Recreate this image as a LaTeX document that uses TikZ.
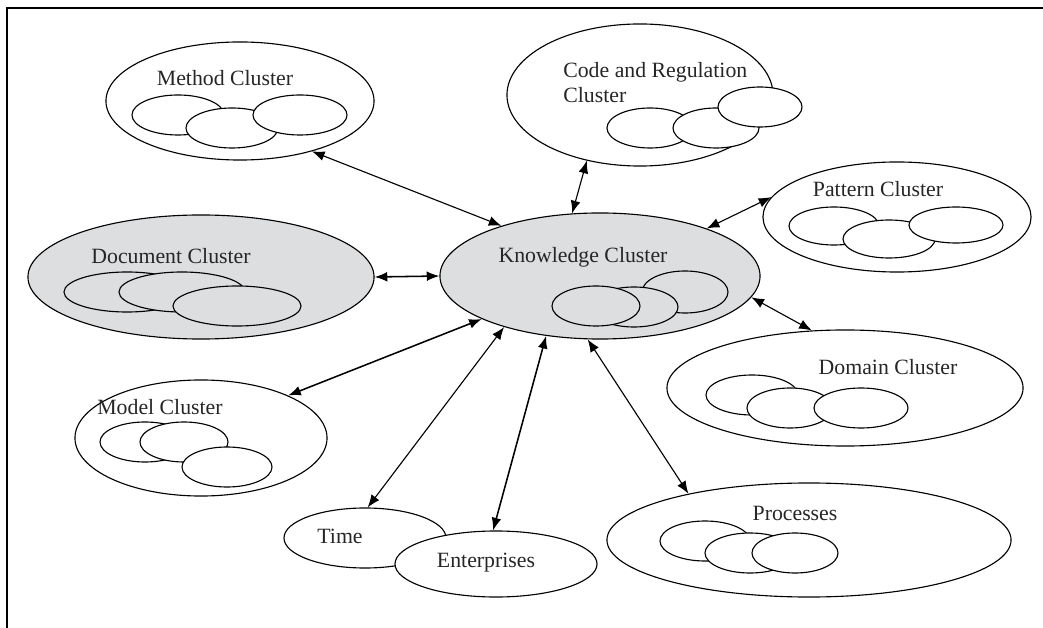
\documentclass[tikz,border=0pt]{standalone}
\usepackage{fontspec}
\setmainfont{Liberation Serif}
\usepackage{tikz}
\usetikzlibrary{shapes.geometric, arrows.meta}
\definecolor{clustergray}{RGB}{221,222,224}
\tikzset{
	oval/.style 2 args={ellipse, draw, line width=0.8pt, inner sep=0pt, minimum width=#1*0.05cm, minimum height=#2*0.05cm}
}
\tikzset{
	subcluster/.style={fill=white}
}
\tikzset{
	graycluster/.style={fill=clustergray}
}
\tikzset{
	clustertext/.style={font=\fontsize{15.5}{18}\selectfont\color{black!85}, anchor=base, inner sep=0pt}
}
\tikzset{
	link/.style={{Latex[length=9pt,width=7pt]}-{Latex[length=9pt,width=7pt]}, line width=0.8pt}
}

\begin{document}
\begin{tikzpicture}[x=0.025cm, y=-0.025cm]
      \useasboundingbox (0,0) rectangle (1043,628);
      \draw[line width=1.3pt] (7,628) -- (7,8) -- (1043,8);

      \node[oval={134}{59}] (method) at (240,101) {};
      \node[oval={46}{20}, subcluster] (method1) at (178,115) {};
      \node[oval={46}{20}, subcluster] (method2) at (232,128) {};
      \node[oval={47}{20}, subcluster] (method3) at (300,115) {};
      \node[clustertext] (methodtxt) at (225,86) {Method Cluster};

      \node[oval={133}{71}] (code) at (640,95) {};
      \node[oval={43}{20}, subcluster] (code1) at (650,128) {};
      \node[oval={43}{20}, subcluster] (code2) at (716,128) {};
      \node[oval={42}{20}, subcluster] (code3) at (760,107) {};
      \node[clustertext, anchor=north west, align=left] (codetxt) at (563,62) {Code and Regulation\\Cluster};

      \node[oval={134}{55}] (pattern) at (897,217) {};
      \node[oval={45}{19}, subcluster] (pattern1) at (834,226) {};
      \node[oval={46}{19}, subcluster] (pattern2) at (889,239) {};
      \node[oval={47}{18}, subcluster] (pattern3) at (956,225) {};
      \node[clustertext] (patterntxt) at (878,197) {Pattern Cluster};

      \node[oval={173}{62}, graycluster] (doc) at (201,277) {};
      \node[oval={63}{20}, graycluster] (doc1) at (127,292) {};
      \node[oval={63}{20}, graycluster] (doc2) at (182,292) {};
      \node[oval={64}{20}, graycluster] (doc3) at (237,306) {};
      \node[clustertext] (doctxt) at (171,264) {Document Cluster};

      \node[oval={160}{63}, graycluster] (know) at (600,276) {};
      \node[oval={43}{21}, graycluster] (know3) at (685,292) {};
      \node[oval={44}{20}, graycluster] (know2) at (634,307) {};
      \node[oval={44}{20}, graycluster] (know1) at (596,306) {};
      \node[clustertext] (knowtxt) at (583,263) {Knowledge Cluster};

      \node[oval={178}{58}] (domain) at (845,388) {};
      \node[oval={46}{20}, subcluster] (domain1) at (752,395) {};
      \node[oval={43}{20}, subcluster] (domain2) at (790,408) {};
      \node[oval={47}{20}, subcluster] (domain3) at (861,408) {};
      \node[clustertext] (domaintxt) at (888,374) {Domain Cluster};

      \node[oval={126}{58}] (model) at (201,438) {};
      \node[oval={45}{20}, subcluster] (model1) at (145,442) {};
      \node[oval={44}{20}, subcluster] (model2) at (184,442) {};
      \node[oval={45}{20}, subcluster] (model3) at (227,467) {};
      \node[clustertext] (modeltxt) at (160,414) {Model Cluster};

      \node[oval={202}{57}] (proc) at (809,540) {};
      \node[oval={45}{20}, subcluster] (proc1) at (705,541) {};
      \node[oval={45}{20}, subcluster] (proc2) at (750,553) {};
      \node[oval={43}{20}, subcluster] (proc3) at (795,553) {};
      \node[clustertext] (proctxt) at (795,520) {Processes};

      \node[oval={81}{30}] (time) at (365,538) {};
      \node[clustertext] (timetxt) at (340,543) {Time};
      \node[oval={101}{33}, subcluster] (enter) at (496,564) {};
      \node[clustertext] (entertxt) at (486,567) {Enterprises};

      \draw[link] (method.-35) -- (know.153);
      \draw[link] (code.231) -- (know.114);
      \draw[link] (pattern.171) -- (know.24);
      \draw[link, line width=1.1pt] (doc.0) -- (know.180);
      \draw[link] (domain.120) -- (know.-8);
      \draw[link, line width=1.1pt] (model.26) -- (know.200);
      \draw[link] (time.85) -- (know.208);
      \draw[link, line width=1.1pt] (enter.95) -- (know.228);
      \draw[link] (proc.159) -- (know.259);
    \end{tikzpicture}
\end{document}
